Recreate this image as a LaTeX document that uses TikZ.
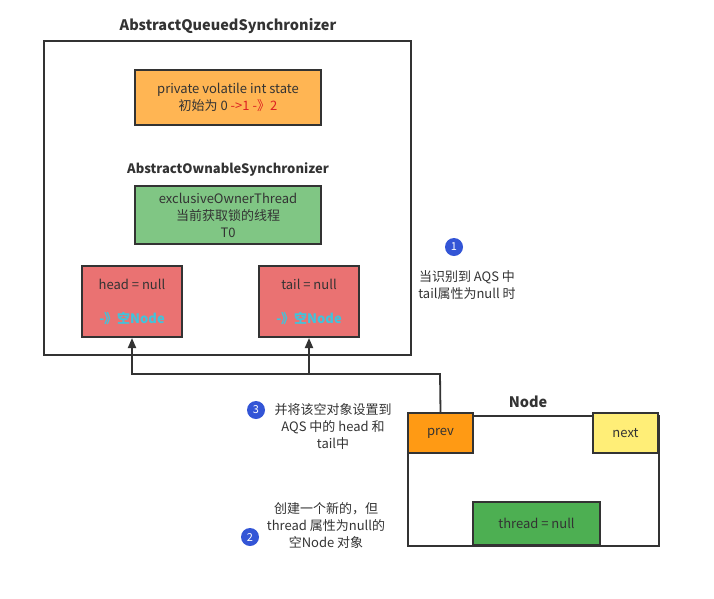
\documentclass[tikz,border=0pt]{standalone}
\usepackage{fontspec}
\setmainfont{Noto Sans CJK SC}
\usetikzlibrary{arrows.meta,positioning}
\definecolor{inkgray}{HTML}{333333}
\definecolor{stateorange}{HTML}{FFB553}
\definecolor{ownergreen}{HTML}{80C684}
\definecolor{ptrred}{HTML}{EA7272}
\definecolor{prevorange}{HTML}{FF9A14}
\definecolor{nextyellow}{HTML}{FFEE77}
\definecolor{threadgreen}{HTML}{4DAF52}
\definecolor{stepblue}{HTML}{3355D6}
\definecolor{refcyan}{HTML}{40C4DC}
\definecolor{numred}{HTML}{DD2222}

\tikzset{
  field/.style={draw=inkgray, line width=2pt, text=inkgray, align=center, inner sep=0pt},
  frame/.style={draw=inkgray, line width=1.8pt, inner sep=0pt},
  title/.style={font=\fontsize{14.5}{17}\selectfont\bfseries, text=inkgray},
  note/.style={text=inkgray, align=center},
  stepdot/.style={circle, fill=stepblue, text=white, minimum size=18pt, inner sep=0pt, font=\fontsize{11}{12}\selectfont},
  link/.style={draw=inkgray, line width=1.8pt, -{Triangle[length=10pt,width=8pt]}}
}

\begin{document}
\begin{tikzpicture}[x=1pt, y=-1pt, font=\fontsize{13}{17}\selectfont]
  \useasboundingbox (0,0) rectangle (714,598);

  % AQS
  \node[title] (aqstitle) at (228,26) {AbstractQueuedSynchronizer};
  \node[frame, minimum width=367pt, minimum height=314pt] (aqs) at (227.5,198) {};
  \node[field, fill=stateorange, minimum width=186pt, minimum height=55pt] (state) at (228,97.5)
    {private volatile int state\\初始为 0 \textcolor{numred}{->1 -》2}};
  \node[title, font=\fontsize{13}{15}\selectfont\bfseries] (aostitle) at (228,170) {AbstractOwnableSynchronizer};
  \node[field, fill=ownergreen, minimum width=186pt, minimum height=58pt] (owner) at (228,215)
    {exclusiveOwnerThread\\当前获取锁的线程\\T0};
  \node[field, fill=ptrred, minimum width=100pt, minimum height=71pt] (head) at (132,301.5)
    {head = null\\[17pt]\textcolor{refcyan}{\bfseries -》空Node}};
  \node[field, fill=ptrred, minimum width=100pt, minimum height=71pt] (tail) at (309,301.5)
    {tail = null\\[17pt]\textcolor{refcyan}{\bfseries -》空Node}};

  % Node
  \node[title] (nodetitle) at (528,402) {Node};
  \node[frame, minimum width=251pt, minimum height=130pt] (nodebox) at (533.5,481) {};
  \node[field, fill=prevorange, minimum width=65pt, minimum height=40pt] (prev) at (440.5,433) {prev};
  \node[field, fill=nextyellow, minimum width=65pt, minimum height=40pt] (next) at (625.5,433) {next};
  \node[field, fill=threadgreen, minimum width=127pt, minimum height=43pt] (thread) at (536.5,523.5) {thread = null};

  % steps
  \node[stepdot] (one) at (454,247) {1};
  \node[note] (onetext) at (467,285.5) {当识别到 AQS 中\\tail属性为null 时};
  \node[stepdot] (three) at (256,410) {3};
  \node[note] (threetext) at (333,427) {并将该空对象设置到\\AQS 中的 head 和\\tail中};
  \node[stepdot] (two) at (250,537) {2};
  \node[note] (twotext) at (326,525.5) {创建一个新的，但\\thread 属性为null的\\空Node 对象};

  % links
  \coordinate (bend) at (440,374);
  \draw[link] (prev.north) -- (bend) -| (head.south);
  \draw[link] (bend -| tail.south) -- (tail.south);
\end{tikzpicture}
\end{document}
